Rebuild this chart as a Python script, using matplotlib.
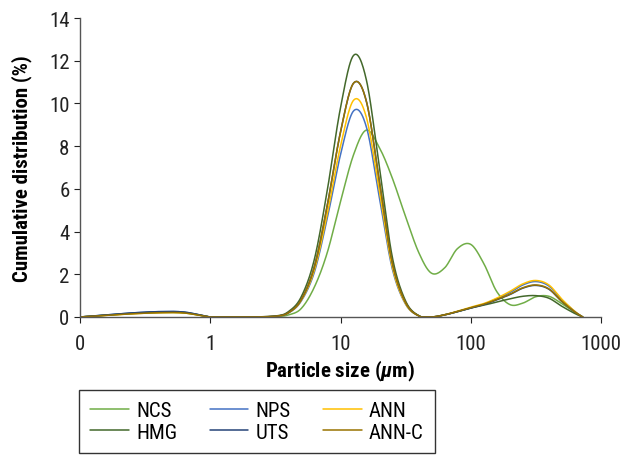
import numpy as np
import matplotlib
matplotlib.use("Agg")
import matplotlib.pyplot as plt
from matplotlib import font_manager

# ---------------- data ----------------
sizes = [0.1, 0.16, 0.25, 0.4, 0.63, 1.0, 1.26, 2.0, 3.2, 4.0, 5.0, 6.3, 7.9, 10,
         12.6, 15.8, 20, 25, 31.6, 40, 50, 63, 79, 100, 126, 158, 200, 251, 316,
         398, 501, 631, 724]

NCS = [0.0, 0.08, 0.16, 0.21, 0.19, 0.0, 0.0, 0.0, 0.02, 0.1, 0.4, 1.4, 3.0, 5.4,
       7.6, 8.75, 7.9, 6.5, 4.7, 3.0, 2.05, 2.3, 3.2, 3.4, 2.5, 1.2, 0.58, 0.65,
       0.95, 0.97, 0.62, 0.22, 0.0]
NPS = [0.0, 0.1, 0.19, 0.25, 0.23, 0.0, 0.0, 0.0, 0.04, 0.19, 0.75, 2.1, 4.6, 7.6,
       9.65, 8.9, 5.5, 2.25, 0.6, 0.05, 0.0, 0.1, 0.25, 0.43, 0.6, 0.85, 1.15, 1.5,
       1.66, 1.45, 0.8, 0.25, 0.0]
ANN = [0.0, 0.08, 0.15, 0.2, 0.19, 0.0, 0.0, 0.0, 0.04, 0.2, 0.78, 2.2, 4.8, 8.0,
       10.15, 9.35, 5.8, 2.35, 0.62, 0.05, 0.0, 0.11, 0.27, 0.46, 0.63, 0.88, 1.2,
       1.55, 1.71, 1.5, 0.83, 0.26, 0.0]
HMG = [0.0, 0.09, 0.17, 0.22, 0.21, 0.0, 0.0, 0.0, 0.05, 0.26, 0.95, 2.7, 5.9, 9.8,
       12.25, 11.1, 6.9, 2.8, 0.75, 0.06, 0.0, 0.1, 0.25, 0.42, 0.55, 0.7, 0.85,
       0.97, 1.0, 0.88, 0.5, 0.16, 0.0]
UTS = [0.0, 0.1, 0.19, 0.25, 0.23, 0.0, 0.0, 0.0, 0.04, 0.21, 0.82, 2.36, 5.2, 8.66,
       10.95, 10.1, 6.26, 2.55, 0.68, 0.05, 0.0, 0.1, 0.25, 0.42, 0.58, 0.8, 1.05,
       1.35, 1.48, 1.3, 0.72, 0.23, 0.0]
ANN_C = [0.0, 0.08, 0.15, 0.2, 0.19, 0.0, 0.0, 0.0, 0.04, 0.21, 0.82, 2.36, 5.2, 8.66,
         10.95, 10.1, 6.26, 2.55, 0.68, 0.05, 0.0, 0.1, 0.26, 0.44, 0.6, 0.82, 1.07,
         1.37, 1.5, 1.32, 0.73, 0.23, 0.0]

series_names = ["NCS", "NPS", "ANN", "HMG", "UTS", "ANN-C"]
series_values = [NCS, NPS, ANN, HMG, UTS, ANN_C]
colors = ["#70AD47", "#4472C4", "#FFC000", "#43682B", "#264478", "#997300"]
x_ticks = [0.1, 1, 10, 100, 1000]
x_tick_labels = ["0", "1", "10", "100", "1000"]
y_ticks = [0, 2, 4, 6, 8, 10, 12, 14]

# ---------------- font ----------------
avail = {f.name for f in font_manager.fontManager.ttflist}
font = "DejaVu Sans"
for cand in ["Liberation Sans Narrow", "Roboto Condensed", "Arial Narrow", "Roboto", "Liberation Sans"]:
    if cand in avail:
        font = cand
        break
plt.rcParams["font.family"] = [font, "DejaVu Sans"]
plt.rcParams["mathtext.fontset"] = "custom"
plt.rcParams["mathtext.it"] = f"{font}:italic:bold"
plt.rcParams["mathtext.rm"] = f"{font}:bold"
plt.rcParams["mathtext.bf"] = f"{font}:bold"


def smooth(xs, ys, n=24):
    """Excel-like smoothed line (Catmull-Rom) in log-x space."""
    lx = np.log10(np.asarray(xs, float))
    y = np.asarray(ys, float)
    P = np.column_stack([lx, y])
    P = np.vstack([P[0], P, P[-1]])
    out = []
    t = np.linspace(0, 1, n, endpoint=False)[:, None]
    for i in range(1, len(P) - 2):
        p0, p1, p2, p3 = P[i - 1], P[i], P[i + 1], P[i + 2]
        c = 0.5 * ((2 * p1) + (-p0 + p2) * t + (2 * p0 - 5 * p1 + 4 * p2 - p3) * t ** 2
                   + (-p0 + 3 * p1 - 3 * p2 + p3) * t ** 3)
        out.append(c)
    out.append(P[-2][None, :])
    pts = np.vstack(out)
    return 10 ** pts[:, 0], np.clip(pts[:, 1], 0, None)


fig = plt.figure(figsize=(6.31, 4.56), dpi=100)
ax = fig.add_axes([80 / 631, 1 - 318 / 456, 521 / 631, 299 / 456])

handles = {}
for name, vals, col in zip(series_names, series_values, colors):
    sx, sy = smooth(sizes, vals)
    (h,) = ax.plot(sx, sy, color=col, lw=1.1, label=name, solid_capstyle="round")
    handles[name] = h

ax.set_xscale("log")
ax.set_xlim(0.1, 1000)
ax.set_ylim(0, 14)
ax.set_xticks(x_ticks)
ax.set_xticklabels(x_tick_labels)
ax.xaxis.set_minor_locator(matplotlib.ticker.NullLocator())
ax.set_yticks(y_ticks)
ax.tick_params(axis="both", labelsize=15, colors="#222222", length=4, width=0.8,
               direction="out")
ax.tick_params(axis="x", pad=8)
for s in ["top", "right"]:
    ax.spines[s].set_visible(False)
for s in ["left", "bottom"]:
    ax.spines[s].set_color("#555555")
    ax.spines[s].set_linewidth(1.0)

ax.set_xlabel(r"Particle size ($\mu$m)", fontsize=15, fontweight="bold", labelpad=4)
ax.set_ylabel("Cumulative distribution (%)", fontsize=15, fontweight="bold", labelpad=12)

order = ["NCS", "HMG", "NPS", "UTS", "ANN", "ANN-C"]
leg = fig.legend([handles[n] for n in order], order, ncol=3,
                 loc="upper left", bbox_to_anchor=(79 / 631, 1 - 391 / 456),
                 frameon=True, fancybox=False, fontsize=15, handlelength=1.85,
                 columnspacing=1.55, handletextpad=0.35, labelspacing=0.1,
                 borderpad=0.55, borderaxespad=0)
leg.get_frame().set_edgecolor("black")
leg.get_frame().set_linewidth(1.0)

fig.savefig("out.png", dpi=100)
